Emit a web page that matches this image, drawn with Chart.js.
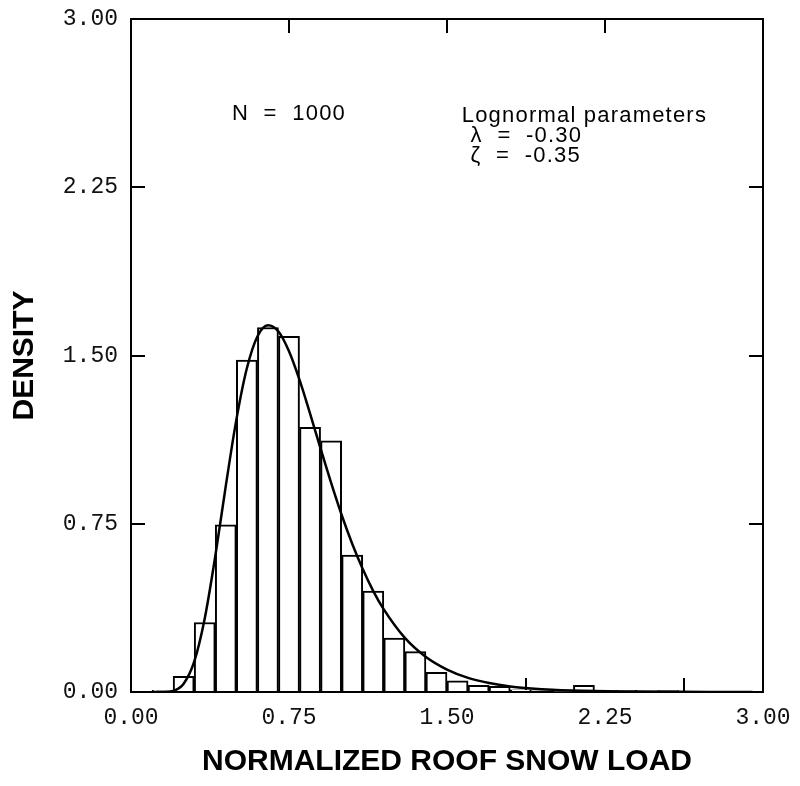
<!DOCTYPE html>
<html>
<head>
<meta charset="utf-8">
<script src="https://cdn.jsdelivr.net/npm/chart.js@4/dist/chart.umd.min.js"></script>
<style>
  html, body { margin: 0; padding: 0; background: #fff; }
  #c { display: block; }
</style>
</head>
<body>
<canvas id="c" width="800" height="786"></canvas>
<script>
// ---- data ----
const binCenters = [0.15, 0.25, 0.35, 0.45, 0.55, 0.65, 0.75, 0.85, 0.95, 1.05,
                    1.15, 1.25, 1.35, 1.45, 1.55, 1.65, 1.75, 1.85, 1.95, 2.05,
                    2.15, 2.25, 2.35, 2.45, 2.55, 2.65];
const density    = [0.008, 0.07, 0.31, 0.745, 1.48, 1.625, 1.585, 1.18, 1.12, 0.61,
                    0.45, 0.24, 0.18, 0.088, 0.05, 0.03, 0.025, 0.01, 0.005, 0.004,
                    0.03, 0.0, 0.008, 0.002, 0.006, 0.001];

const curveX = [0.12, 0.15, 0.20, 0.25, 0.30, 0.35, 0.40, 0.45, 0.50, 0.55, 0.60,
                0.65, 0.70, 0.75, 0.80, 0.85, 0.90, 0.95, 1.00, 1.05, 1.10, 1.15,
                1.20, 1.30, 1.40, 1.50, 1.60, 1.70, 1.80, 1.90, 2.00, 2.20, 2.40,
                2.60, 2.80, 2.95];
const curveY = [0.0, 0.0002, 0.005, 0.037, 0.135, 0.328, 0.605, 0.919, 1.213, 1.443, 1.585,
                1.635, 1.607, 1.519, 1.391, 1.241, 1.085, 0.932, 0.789, 0.661, 0.548, 0.450,
                0.368, 0.241, 0.156, 0.100, 0.063, 0.040, 0.025, 0.016, 0.010, 0.004, 0.002,
                0.0007, 0.0003, 0.0001];

const axisTicks = [0.00, 0.75, 1.50, 2.25, 3.00];

const noteLines = ['N  =  1000', 'Lognormal parameters', 'λ  =  -0.30', 'ζ  =  -0.35'];

// ---- build chart ----
const histData  = binCenters.map((v, i) => ({ x: v, y: density[i] }));
const curveData = curveX.map((v, i) => ({ x: v, y: curveY[i] }));

const notePos = [
  { x: 0.479, y: 2.578 },
  { x: 1.570, y: 2.570 },
  { x: 1.612, y: 2.480 },
  { x: 1.612, y: 2.390 }
];

const notesPlugin = {
  id: 'notes',
  afterDraw(chart) {
    const { ctx, scales } = chart;
    ctx.save();
    ctx.fillStyle = '#000';
    ctx.font = '22px "Liberation Sans", Arial, sans-serif';
    try { ctx.letterSpacing = '1.2px'; } catch (e) {}
    ctx.textAlign = 'left';
    ctx.textBaseline = 'middle';
    noteLines.forEach((t, i) => {
      ctx.fillText(t, scales.x.getPixelForValue(notePos[i].x), scales.y.getPixelForValue(notePos[i].y));
    });
    ctx.restore();
  }
};

const tickFont = { family: '"Liberation Mono", "DejaVu Sans Mono", monospace', size: 23 };
const titleFont = { family: '"Liberation Sans", Arial, sans-serif', size: 30, weight: 'bold' };
const fmt = v => Number(v).toFixed(2);

const gridOpts = {
  drawOnChartArea: false,
  drawTicks: true,
  tickLength: -14,
  color: '#000',
  lineWidth: 2
};
const borderOpts = { display: true, color: '#000', width: 2 };

function fixedTicks(scale) {
  scale.ticks = axisTicks.map(v => ({ value: v }));
}
function noPad(s) {
  s.paddingTop = 0; s.paddingBottom = 0; s.paddingLeft = 0; s.paddingRight = 0;
}

new Chart(document.getElementById('c'), {
  data: {
    datasets: [
      {
        type: 'line',
        data: curveData,
        borderColor: '#000',
        borderWidth: 2.5,
        pointRadius: 0,
        fill: false,
        tension: 0.4,
        cubicInterpolationMode: 'monotone',
        order: 0
      },
      {
        type: 'bar',
        data: histData,
        backgroundColor: '#fff',
        borderColor: '#000',
        borderWidth: 2,
        borderSkipped: 'start',
        barPercentage: 1,
        categoryPercentage: 1,
        order: 1
      }
    ]
  },
  options: {
    responsive: false,
    animation: false,
    devicePixelRatio: 1,
    layout: { padding: { top: 19, right: 37, left: 0, bottom: 0 } },
    plugins: { legend: { display: false }, tooltip: { enabled: false } },
    scales: {
      x: {
        type: 'linear', position: 'bottom', min: 0, max: 3, offset: false,
        afterBuildTicks: fixedTicks,
        afterFit: s => { s.height = 94; noPad(s); },
        grid: gridOpts, border: borderOpts,
        ticks: { font: tickFont, color: '#111', padding: 26, maxRotation: 0, autoSkip: false, callback: fmt },
        title: { display: true, text: 'NORMALIZED ROOF SNOW LOAD', font: titleFont, color: '#000', padding: { top: 0, bottom: 6 } }
      },
      x2: {
        type: 'linear', position: 'top', min: 0, max: 3, offset: false,
        afterBuildTicks: fixedTicks,
        afterFit: s => { s.height = 0; noPad(s); },
        grid: gridOpts, border: borderOpts,
        ticks: { display: false }
      },
      y: {
        type: 'linear', position: 'left', min: 0, max: 3,
        afterBuildTicks: fixedTicks,
        afterFit: s => { s.width = 131; noPad(s); },
        grid: gridOpts, border: borderOpts,
        ticks: { font: tickFont, color: '#111', padding: 27, autoSkip: false, callback: fmt },
        title: { display: true, text: 'DENSITY', font: titleFont, color: '#000', padding: { top: 7, bottom: 0 } }
      },
      y2: {
        type: 'linear', position: 'right', min: 0, max: 3,
        afterBuildTicks: fixedTicks,
        afterFit: s => { s.width = 0; noPad(s); },
        grid: gridOpts, border: borderOpts,
        ticks: { display: false }
      }
    }
  },
  plugins: [notesPlugin]
});
</script>
</body>
</html>
